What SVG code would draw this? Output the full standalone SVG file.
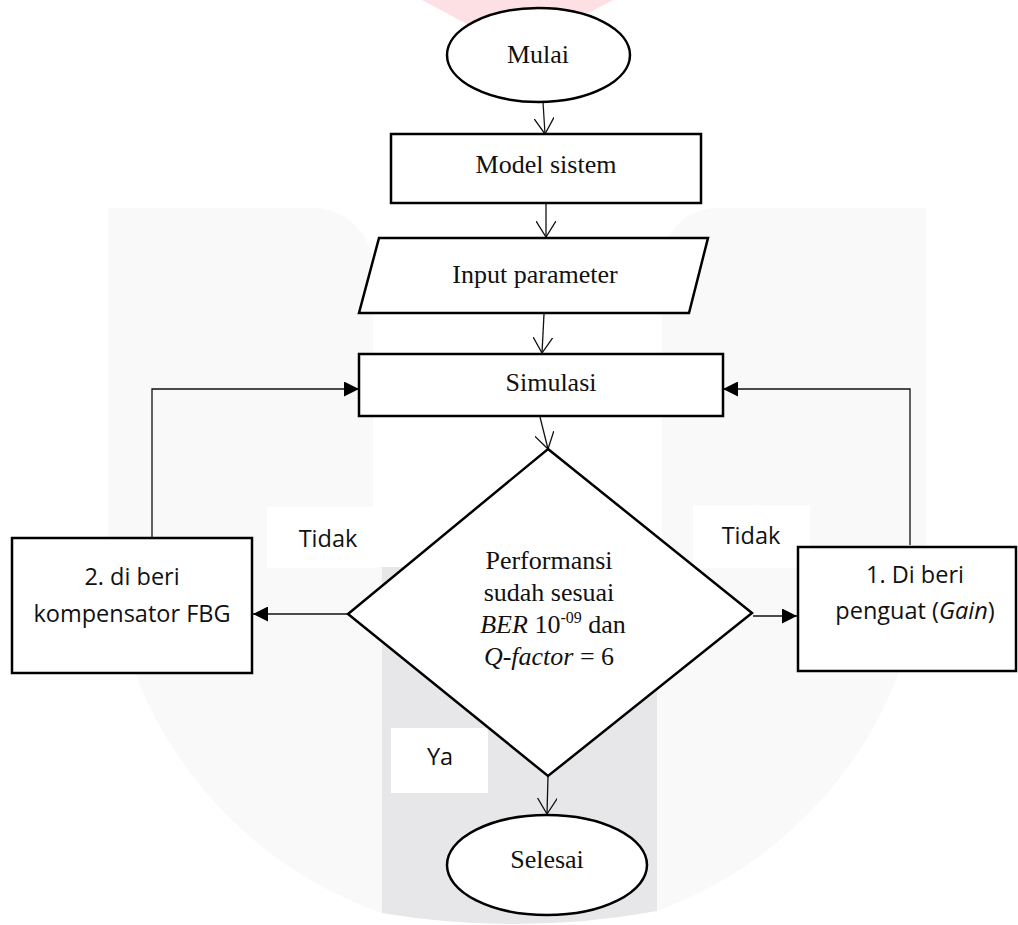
<svg xmlns="http://www.w3.org/2000/svg" width="1018" height="925" viewBox="0 0 1018 925">
<style>
.shape{fill:#fff;stroke:#000;stroke-width:2.5}
.conn{fill:none;stroke:#111;stroke-width:1.3}
.serif{font-family:"Liberation Serif","Times New Roman",serif;font-size:26px;fill:#111;text-anchor:middle}
.sans{font-family:"Open Sans","Noto Sans","Liberation Sans",sans-serif;font-size:23.5px;fill:#111;text-anchor:middle}
.lbl{fill:#fff}
</style>
<defs>
<marker id="open" viewBox="0 0 16 20" refX="16" refY="10" markerWidth="16" markerHeight="20" markerUnits="userSpaceOnUse" orient="auto">
<path d="M0,0 L16,10 L0,20" fill="none" stroke="#111" stroke-width="1.3"/>
</marker>
<marker id="solid" viewBox="0 0 15 15" refX="15" refY="7.5" markerWidth="15" markerHeight="15" markerUnits="userSpaceOnUse" orient="auto">
<path d="M0,0 L15,7.5 L0,15 Z" fill="#000"/>
</marker>
</defs>
<rect width="1018" height="925" fill="#fff"/>
<g id="watermark">
<polygon points="422,0 613,0 517,51" fill="#fde0e4"/>
<path d="M108,208 H313 A60,60 0 0 1 373,268 V567 H662 V263 A55,55 0 0 1 717,208 H926 V528 A409,409 0 0 1 657,911 Q519,936 382,913 A409,409 0 0 1 108,528 Z" fill="#f9f9f9"/>
<path d="M382,567 H657 V911 Q519,936 382,913 Z" fill="#e7e7ea"/>
</g>
<g id="labels-bg">
<rect class="lbl" x="267" y="507" width="111" height="61"/>
<rect class="lbl" x="693" y="505" width="117" height="63"/>
<rect class="lbl" x="391" y="728" width="97" height="65"/>
</g>
<g id="connectors">
<line class="conn" x1="543" y1="102" x2="545" y2="134" marker-end="url(#open)"/>
<line class="conn" x1="546" y1="203" x2="546" y2="237" marker-end="url(#open)"/>
<line class="conn" x1="544" y1="314" x2="542" y2="353" marker-end="url(#open)"/>
<line class="conn" x1="540" y1="417" x2="548" y2="449" marker-end="url(#open)"/>
<line class="conn" x1="548" y1="776" x2="547" y2="814" marker-end="url(#open)"/>
<path class="conn" d="M152,538 V389 H359" marker-end="url(#solid)"/>
<path class="conn" d="M910,545 V389 H723" marker-end="url(#solid)"/>
<line class="conn" x1="348" y1="614" x2="253" y2="614" marker-end="url(#solid)"/>
<line class="conn" x1="753" y1="616" x2="797" y2="616" marker-end="url(#solid)"/>
</g>
<g id="mulai">
<ellipse class="shape" cx="538.5" cy="55" rx="91.5" ry="47"/>
<text class="serif" x="538" y="63">Mulai</text>
</g>
<g id="model-sistem">
<rect class="shape" x="391" y="134" width="310" height="69"/>
<text class="serif" x="546" y="173">Model sistem</text>
</g>
<g id="input-parameter">
<polygon class="shape" points="379,238 708,238 689,313 359,313"/>
<text class="serif" x="535" y="283">Input parameter</text>
</g>
<g id="simulasi">
<rect class="shape" x="359" y="354" width="364" height="62"/>
<text class="serif" x="551" y="391">Simulasi</text>
</g>
<g id="keputusan">
<polygon class="shape" points="548,449 752,613 548,776 348,614"/>
<text class="serif" x="549" y="569">Performansi</text>
<text class="serif" x="549" y="601">sudah sesuai</text>
<text class="serif" x="553" y="633"><tspan font-style="italic">BER</tspan> 10<tspan font-size="16" dy="-10">-09</tspan><tspan dy="10"> dan</tspan></text>
<text class="serif" x="549" y="665"><tspan font-style="italic">Q-factor</tspan> = 6</text>
</g>
<g id="kompensator">
<rect class="shape" x="12" y="538" width="240" height="135"/>
<text class="sans" x="132" y="585">2. di beri</text>
<text class="sans" x="132" y="622">kompensator FBG</text>
</g>
<g id="penguat">
<rect class="shape" x="798" y="547" width="218" height="124"/>
<text class="sans" x="915" y="583">1. Di beri</text>
<text class="sans" x="915" y="619">penguat (<tspan font-style="italic">Gain</tspan>)</text>
</g>
<g id="selesai">
<ellipse class="shape" cx="547" cy="865" rx="100" ry="50"/>
<text class="serif" x="547" y="868">Selesai</text>
</g>
<g id="edge-labels">
<text class="sans" x="328" y="547">Tidak</text>
<text class="sans" x="751" y="544">Tidak</text>
<text class="sans" x="440" y="765">Ya</text>
</g>
</svg>
